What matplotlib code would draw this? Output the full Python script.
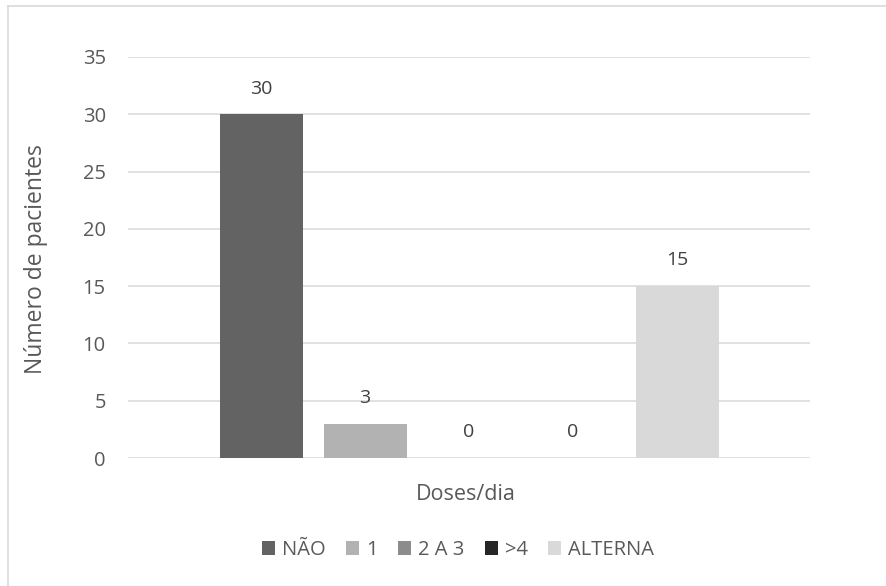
import matplotlib
matplotlib.use("Agg")
import matplotlib.pyplot as plt
from matplotlib.patches import Patch
from matplotlib.lines import Line2D

plt.rcParams['font.family'] = ['Open Sans', 'DejaVu Sans']

series = ["NÃO", "1", "2 A 3", ">4", "ALTERNA"]
values = [30, 3, 0, 0, 15]
colors = ["#636363", "#B2B2B2", "#8C8C8C", "#262626", "#D9D9D9"]
y_ticks = [0, 5, 10, 15, 20, 25, 30, 35]
x_title = "Doses/dia"
y_title = "Número de pacientes"

text_color = "#595959"
grid_color = "#D9D9D9"

fig = plt.figure(figsize=(8.86, 5.86), dpi=100)
ax = fig.add_axes([128 / 886, 1 - 458 / 586, 682 / 886, 401 / 586])

pitch = 104 / 682
width = 83 / 682
n = len(series)
for i, (name, v, c) in enumerate(zip(series, values, colors)):
    xc = (i - (n - 1) / 2) * pitch
    ax.bar(xc, v, width=width, color=c, label=name, zorder=3)
    ax.annotate(f"{v}", (xc, v), xytext=(0, 18.5), textcoords="offset points",
                ha="center", va="center", fontsize=14, color="#404040", zorder=4)

ax.set_xlim(-0.5, 0.5)
ax.set_ylim(0, 35)
ax.set_yticks(y_ticks)
ax.set_xticks([])
ax.tick_params(axis="y", length=0, labelsize=14.5, labelcolor=text_color, pad=16)
ax.grid(axis="y", color=grid_color, linewidth=1.1, zorder=0)
for s in ax.spines.values():
    s.set_visible(False)

fig.text(36 / 886, 1 - 259 / 586, y_title, rotation=90, ha="center", va="center",
         fontsize=16.5, color=text_color)
fig.text(466 / 886, 1 - 494 / 586, x_title, ha="center", va="center",
         fontsize=15.5, color=text_color)

handles = [Patch(facecolor=c, edgecolor="none") for c in colors]
fig.legend(handles, series, loc="center", bbox_to_anchor=(458 / 886, 1 - 550 / 586),
           ncol=n, frameon=False, fontsize=14.5, labelcolor=text_color,
           handlelength=0.65, handleheight=0.65, handletextpad=0.35, columnspacing=1.0)

# light chart-area frame along the top and left edges
fig.add_artist(Line2D([8 / 886, 1.0], [1 - 6 / 586, 1 - 6 / 586], transform=fig.transFigure,
                      color="#D9D9D9", linewidth=1.2))
fig.add_artist(Line2D([8 / 886, 8 / 886], [0.0, 1 - 6 / 586], transform=fig.transFigure,
                      color="#D9D9D9", linewidth=1.2))

fig.savefig("out.png", dpi=100, facecolor="white")
